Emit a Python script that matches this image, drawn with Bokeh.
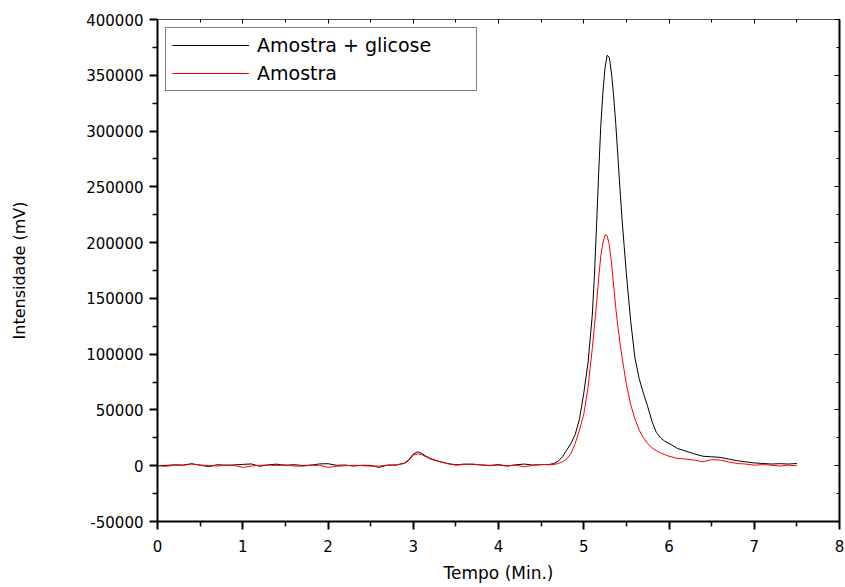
from bokeh.plotting import figure
from bokeh.models import LinearAxis, Legend, LegendItem, FixedTicker, NumeralTickFormatter, CustomJSTickFormatter
from bokeh.embed import file_html
from bokeh.resources import INLINE

# time (min)
time = [0.0, 0.1, 0.2, 0.3, 0.4, 0.5, 0.6, 0.7, 0.8, 0.9,
        1.0, 1.1, 1.2, 1.3, 1.4, 1.5, 1.6, 1.7, 1.8, 1.9,
        2.0, 2.1, 2.2, 2.3, 2.4, 2.5, 2.6, 2.7, 2.8,
        2.9, 2.95, 3.0, 3.05, 3.1, 3.15, 3.2, 3.3, 3.4, 3.5,
        3.6, 3.7, 3.8, 3.9, 4.0, 4.1, 4.2, 4.3, 4.4, 4.5, 4.6,
        4.65, 4.7, 4.75, 4.8, 4.85, 4.9, 4.95, 5.0, 5.05, 5.1,
        5.125, 5.15, 5.175, 5.2, 5.225, 5.25, 5.275, 5.3, 5.325, 5.35,
        5.375, 5.4, 5.425, 5.45, 5.475, 5.5,
        5.55, 5.6, 5.65, 5.7, 5.75, 5.8, 5.85, 5.9, 5.95, 6.0,
        6.1, 6.2, 6.3, 6.4, 6.5, 6.6, 6.7, 6.8, 6.9, 7.0,
        7.1, 7.2, 7.3, 7.4, 7.5]

# Amostra + glicose (black)
amostra_glicose = [0, 300, 800, 600, 1800, 500, -800, 900, 400, 700,
                   1200, 1600, -500, 800, 1400, 300, 900, 200, 500, 1600,
                   1800, 400, 600, -300, 400, 300, -1500, 600, 500,
                   2500, 5500, 10500, 12500, 11000, 8500, 6500, 4000, 2000, 800,
                   1500, 1200, 600, 300, 1000, -200, 800, 1500, 600, 900, 1200,
                   2000, 4000, 8000, 14000, 20000, 28000, 42000, 65000, 92000, 135000,
                   170000, 215000, 262000, 305000, 335000, 357000, 368000, 366000, 352000, 332000,
                   307000, 278000, 248000, 220000, 196000, 172000,
                   130000, 97000, 78000, 65000, 53000, 40000, 30000, 25000, 22000, 20000,
                   15500, 13000, 10500, 8500, 8000, 7500, 6000, 4500, 3500, 2500,
                   2000, 1500, 1800, 1500, 2000]

# Amostra (red)
amostra = [0, -500, 400, 300, 1500, 600, 200, -300, 600, 200,
           -1500, -300, 400, 600, 200, 800, -200, -400, 500, 300,
           -1500, -500, 0, 400, 100, -400, -300, 400, 800,
           2000, 5000, 9500, 10500, 10000, 8000, 6000, 3800, 1800, 600,
           1000, 1500, 800, 0, 500, -300, 600, -1000, 300, 1200, 800,
           1000, 2000, 3500, 6000, 11000, 20000, 32000, 46000, 70000, 105000,
           125000, 145000, 168000, 188000, 200000, 207000, 206000, 198000, 182000, 162000,
           142000, 125000, 110000, 97000, 85000, 73000,
           55000, 42000, 32000, 25000, 20000, 16000, 13500, 11500, 10000, 8500,
           6500, 6000, 5000, 3500, 5500, 5000, 3500, 2000, 1500, 500,
           1000, 500, -300, 500, 0]

assert len(time) == len(amostra_glicose) == len(amostra)

x_ticks = [0, 1, 2, 3, 4, 5, 6, 7, 8]
y_ticks = [-50000, 0, 50000, 100000, 150000, 200000, 250000, 300000, 350000, 400000]

FONT = "DejaVu Sans"

p = figure(width=845, height=587, x_range=(0, 8), y_range=(-50000, 400000),
           output_backend="svg", toolbar_location=None,
           min_border_left=157, min_border_right=6, min_border_top=19, min_border_bottom=66,
           x_axis_label="Tempo (Min.)", y_axis_label="Intensidade (mV)")
p.grid.visible = False
p.outline_line_color = "black"
p.outline_line_width = 1
p.background_fill_color = "white"
p.border_fill_color = "white"

r1 = p.line(time, amostra_glicose, line_color="black", line_width=1)
r2 = p.line(time, amostra, line_color="#ff0000", line_width=1)

for ax in (p.xaxis[0], p.yaxis[0]):
    ax.axis_line_width = 2
    ax.major_tick_line_width = 2
    ax.minor_tick_line_width = 1.5
    ax.major_tick_out = 8
    ax.major_tick_in = 0
    ax.minor_tick_out = 5
    ax.minor_tick_in = 0
    ax.major_label_text_font = FONT
    ax.major_label_text_font_size = "15px"
    ax.major_label_text_color = "black"
    ax.axis_label_text_font = FONT
    ax.axis_label_text_font_style = "normal"
    ax.axis_label_text_color = "black"

p.xaxis[0].ticker = FixedTicker(ticks=x_ticks, minor_ticks=[0.5 + i for i in range(8)])
p.yaxis[0].ticker = FixedTicker(ticks=y_ticks, minor_ticks=[-25000 + 50000 * i for i in range(9)])
p.xaxis[0].formatter = NumeralTickFormatter(format="0")
p.yaxis[0].formatter = NumeralTickFormatter(format="0")
p.xaxis[0].axis_label_text_font_size = "17px"
p.yaxis[0].axis_label_text_font_size = "16px"
p.xaxis[0].major_label_standoff = 10
p.yaxis[0].major_label_standoff = 6
p.xaxis[0].axis_label_standoff = 8
p.yaxis[0].axis_label_standoff = 54

blank = CustomJSTickFormatter(code="return ''")
top = LinearAxis(ticker=FixedTicker(ticks=x_ticks, minor_ticks=[0.5 + i for i in range(8)]),
                 formatter=blank, major_label_standoff=0,
                 major_tick_in=4, major_tick_out=0, minor_tick_in=3, minor_tick_out=0,
                 axis_line_width=1, axis_line_color="#555555")
right = LinearAxis(ticker=FixedTicker(ticks=y_ticks, minor_ticks=[-25000 + 50000 * i for i in range(9)]),
                   formatter=blank, major_label_standoff=0,
                   major_tick_in=5, major_tick_out=0, minor_tick_in=3, minor_tick_out=0,
                   axis_line_width=2)
p.add_layout(top, "above")
p.add_layout(right, "right")

legend = Legend(items=[LegendItem(label="Amostra + glicose", renderers=[r1]),
                       LegendItem(label="Amostra", renderers=[r2])],
                location="top_left", margin=8, padding=6, spacing=6,
                glyph_width=77, glyph_height=20, label_height=20, label_width=213,
                label_standoff=8, label_text_font=FONT, label_text_font_size="19px",
                label_text_color="black",
                border_line_color="black", border_line_width=1,
                background_fill_alpha=1.0)
p.add_layout(legend)

open("out.html", "w").write(file_html(p, INLINE))
